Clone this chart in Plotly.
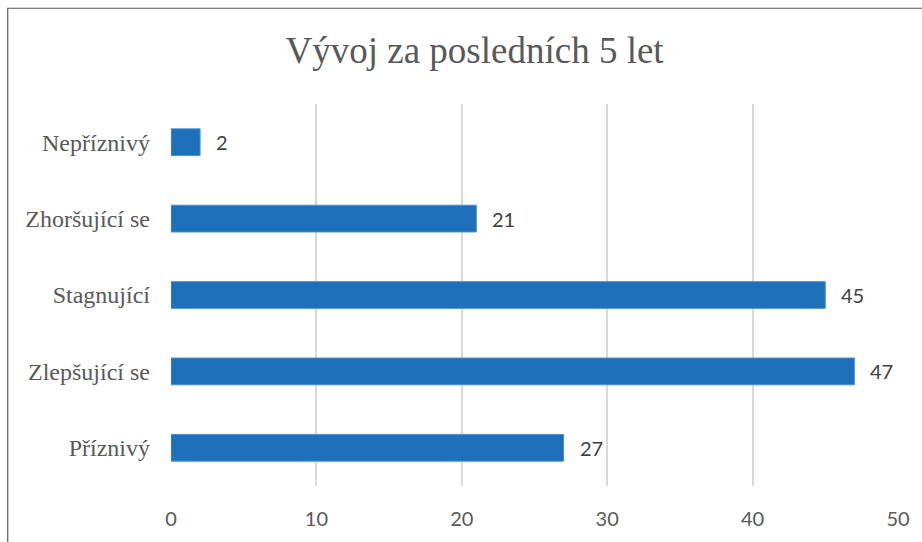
import plotly.graph_objects as go

# Hodnocení vývoje za posledních 5 let (počty odpovědí)
categories = ["Příznivý", "Zlepšující se", "Stagnující", "Zhoršující se", "Nepříznivý"]
values = [27, 47, 45, 21, 2]
x_ticks = [0, 10, 20, 30, 40, 50]

W, H = 922, 542
L, R, T, B = 171, 23, 104, 53
pw, ph = W - L - R, H - T - B

def px_x(p):
    return (p - L) / pw

def px_y(p):
    return (H - B - p) / ph

fig = go.Figure()
fig.add_trace(go.Bar(
    y=categories,
    x=values,
    orientation="h",
    width=0.35,
    marker=dict(color="#1F70BA", line=dict(color="#4A8FD0", width=1)),
    hoverinfo="skip",
))

# Popisky hodnot vpravo od sloupců
for c, v in zip(categories, values):
    fig.add_annotation(
        x=v, y=c, text=str(v), showarrow=False,
        xanchor="left", yanchor="middle", xshift=14,
        font=dict(family="Lato, Open Sans, sans-serif", size=20, color="#404040"),
    )

# Rámeček grafu
fig.add_shape(
    type="rect", xref="paper", yref="paper",
    x0=px_x(7.5), x1=px_x(940), y0=px_y(570), y1=px_y(7.5),
    line=dict(color="#595959", width=1.2), fillcolor="rgba(0,0,0,0)",
    layer="below",
)

fig.update_layout(
    width=W, height=H,
    margin=dict(l=L, r=R, t=T, b=B),
    paper_bgcolor="white", plot_bgcolor="white",
    showlegend=False,
    title=dict(
        text="Vývoj za posledních 5 let",
        x=px_x(475), xanchor="center", xref="paper",
        y=1 - 50 / H, yanchor="middle", yref="container",
        font=dict(family="Liberation Serif, Times New Roman, serif", size=37, color="#595959"),
    ),
    xaxis=dict(
        range=[0, 50], tickvals=x_ticks, ticktext=[str(t) for t in x_ticks],
        showgrid=True, gridcolor="#D9D9D9", gridwidth=1.5,
        zeroline=False, showline=False, ticks="",
        ticklabelstandoff=19,
        tickfont=dict(family="Lato, Open Sans, sans-serif", size=20, color="#595959"),
        fixedrange=True,
    ),
    yaxis=dict(
        categoryorder="array", categoryarray=categories,
        showgrid=False, zeroline=False, showline=False, ticks="",
        ticklabelstandoff=20,
        tickfont=dict(family="Liberation Serif, Times New Roman, serif", size=24, color="#595959"),
        fixedrange=True,
    ),
)

fig.write_html("out.html")
